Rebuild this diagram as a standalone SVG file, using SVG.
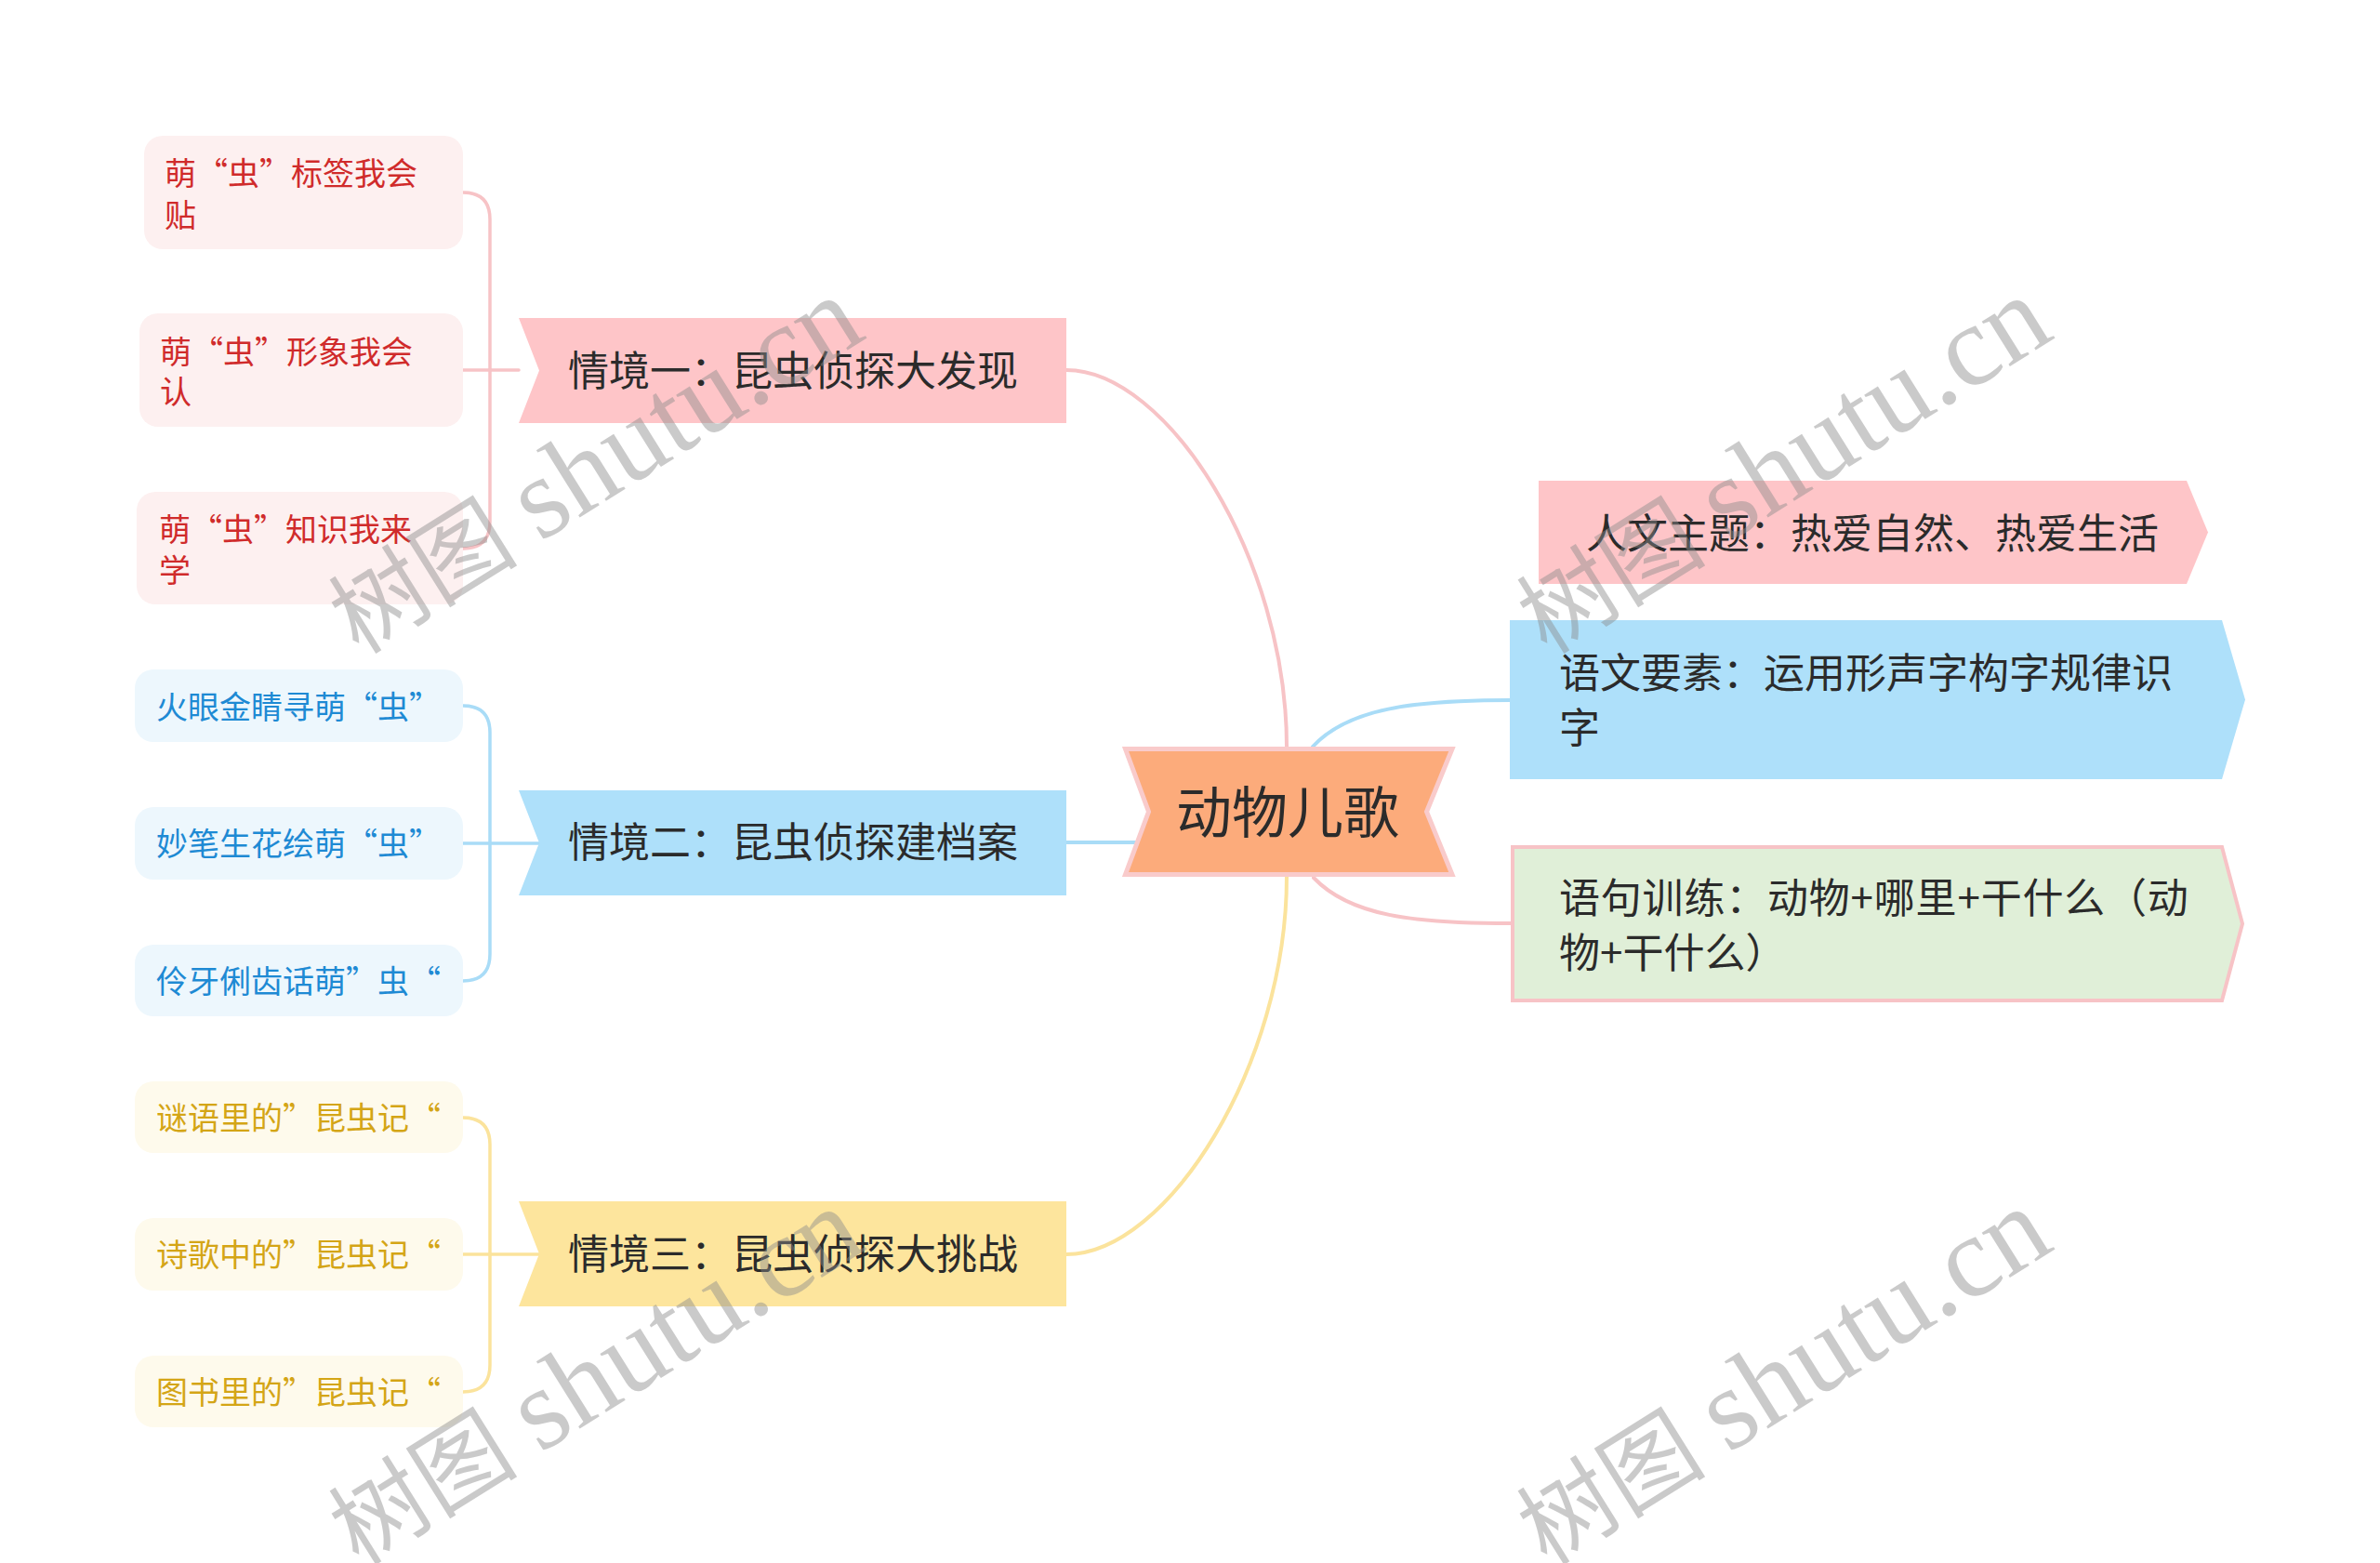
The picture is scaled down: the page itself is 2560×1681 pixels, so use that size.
<svg xmlns="http://www.w3.org/2000/svg" width="2560" height="1681" viewBox="0 0 2560 1681">
<style>
text{font-family:"Noto Sans CJK SC","Liberation Sans",sans-serif;}
.leaf-r rect{fill:#fdf0f0;}
.leaf-b rect{fill:#edf7fd;}
.leaf-y rect{fill:#fefaec;}
.leaf-r text{fill:#d02b2b;font-size:34px;}
.leaf-b text{fill:#1e8ad4;font-size:34px;}
.leaf-y text{fill:#d4a516;font-size:34px;}
.br text{fill:#2b2b2b;font-size:44px;}
.rt text{fill:#2b2b2b;font-size:44px;}
.conn path{fill:none;stroke-linecap:round;}
.pk{stroke:#f7c3c6;}
.bl{stroke:#a9dcf7;}
.yl{stroke:#fbe39c;}
.main{stroke-width:4;}
.sub{stroke-width:3.5;}
.wm{font-family:"Liberation Serif","Noto Sans CJK SC",serif;fill:#8c8c8c;opacity:0.45;}
.wm .c{font-size:102px;}
.wm .l{font-size:124px;}
</style>
<rect width="2560" height="1681" fill="#ffffff"/>
<g id="connectors" class="conn">
<path class="pk main" d="M1147,398 C1255,398 1384,600 1384,803"/>
<path class="bl main" d="M1147,906 L1226,906"/>
<path class="yl main" d="M1147,1349 C1255,1349 1384,1146 1384,943"/>
<path class="bl main" d="M1412,803 C1450,762 1520,753 1625,753"/>
<path class="pk main" d="M1413,944 C1452,985 1520,993 1625,993"/>
<path class="pk sub" d="M498,207 Q527,207 527,236 L527,561 Q527,590 498,590 M498,398 L558,398"/>
<path class="bl sub" d="M498,759 Q527,759 527,788 L527,1026 Q527,1055 498,1055 M498,907 L580,907"/>
<path class="yl sub" d="M498,1202 Q527,1202 527,1231 L527,1468 Q527,1497 498,1497 M498,1349 L580,1349"/>
</g>
<g id="center">
<polygon points="1210.5,805.5 1562,805.5 1534.5,873 1562,940.5 1210.5,940.5 1235.5,873" fill="#fcab7b" stroke="#f9cbcb" stroke-width="5"/>
<text x="1385" y="896" text-anchor="middle" font-size="60" fill="#2b2b2b">动物儿歌</text>
</g>
<g id="branch1" class="br">
<polygon points="558,342 1147,342 1147,455 558,455 580,398.5" fill="#fec5c8"/>
<text x="611" y="415">情境一：昆虫侦探大发现</text>
</g>
<g id="branch2" class="br">
<polygon points="558,850 1147,850 1147,963 558,963 580,906.5" fill="#aee0fa"/>
<text x="611" y="922">情境二：昆虫侦探建档案</text>
</g>
<g id="branch3" class="br">
<polygon points="558,1292 1147,1292 1147,1405 558,1405 580,1348.5" fill="#fde59d"/>
<text x="611" y="1365">情境三：昆虫侦探大挑战</text>
</g>
<g id="leaf-r1" class="leaf-r">
<rect x="155" y="146" width="343" height="122" rx="20"/>
<text x="177" y="199">萌“虫”标签我会</text>
<text x="177" y="244">贴</text>
</g>
<g id="leaf-r2" class="leaf-r">
<rect x="150" y="337" width="348" height="122" rx="20"/>
<text x="172" y="391">萌“虫”形象我会</text>
<text x="172" y="434">认</text>
</g>
<g id="leaf-r3" class="leaf-r">
<rect x="147" y="529" width="351" height="121" rx="20"/>
<text x="171" y="582">萌“虫”知识我来</text>
<text x="171" y="626">学</text>
</g>
<g id="leaf-b1" class="leaf-b">
<rect x="145" y="720" width="353" height="78" rx="20"/>
<text x="168" y="773">火眼金睛寻萌“虫”</text>
</g>
<g id="leaf-b2" class="leaf-b">
<rect x="145" y="868" width="353" height="78" rx="20"/>
<text x="168" y="920">妙笔生花绘萌“虫”</text>
</g>
<g id="leaf-b3" class="leaf-b">
<rect x="145" y="1016" width="353" height="77" rx="20"/>
<text x="168" y="1068">伶牙俐齿话萌”虫“</text>
</g>
<g id="leaf-y1" class="leaf-y">
<rect x="145" y="1163" width="353" height="77" rx="20"/>
<text x="168" y="1215">谜语里的”昆虫记“</text>
</g>
<g id="leaf-y2" class="leaf-y">
<rect x="145" y="1310" width="353" height="78" rx="20"/>
<text x="168" y="1362">诗歌中的”昆虫记“</text>
</g>
<g id="leaf-y3" class="leaf-y">
<rect x="145" y="1458" width="353" height="77" rx="20"/>
<text x="168" y="1510">图书里的”昆虫记“</text>
</g>
<g id="right1" class="rt">
<polygon points="1655,517 2352,517 2375,572.5 2352,628 1655,628" fill="#fec5c8"/>
<text x="1706" y="590">人文主题：热爱自然、热爱生活</text>
</g>
<g id="right2" class="rt">
<polygon points="1624,667 2390,667 2415,752.5 2390,838 1624,838" fill="#aee0fa"/>
<text x="1677" y="740">语文要素：运用形声字构字规律识</text>
<text x="1677" y="799">字</text>
</g>
<g id="right3" class="rt">
<polygon points="1627,911 2390,911 2412,993.5 2390,1076 1627,1076" fill="#e0efd8" stroke="#f7c3c6" stroke-width="4"/>
<text x="1677" y="982" letter-spacing="0.8">语句训练：动物+哪里+干什么（动</text>
<text x="1677" y="1041">物+干什么）</text>
</g>
<g id="watermarks">
<text class="wm" transform="translate(386,705) rotate(-32)"><tspan class="c">树图 </tspan><tspan class="l">shutu.cn</tspan></text>
<text class="wm" transform="translate(1664,705) rotate(-32)"><tspan class="c">树图 </tspan><tspan class="l">shutu.cn</tspan></text>
<text class="wm" transform="translate(386,1685) rotate(-32)"><tspan class="c">树图 </tspan><tspan class="l">shutu.cn</tspan></text>
<text class="wm" transform="translate(1664,1685) rotate(-32)"><tspan class="c">树图 </tspan><tspan class="l">shutu.cn</tspan></text>
</g>
</svg>
